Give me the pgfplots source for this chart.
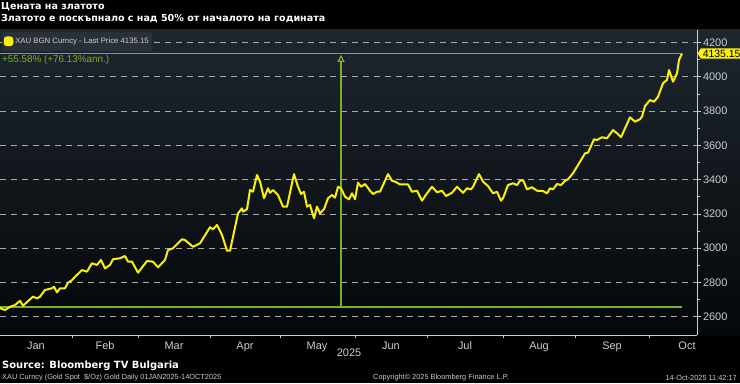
\documentclass[border=0pt]{standalone}
\usepackage{fontspec}
\setmainfont{Liberation Sans}
\newfontfamily\dvs{DejaVu Sans}
\usepackage{pgfplots}
\pgfplotsset{compat=1.18}
\usetikzlibrary{arrows.meta,shapes.symbols}
\definecolor{gold}{RGB}{250,240,10}
\definecolor{grn}{RGB}{118,178,40}
\definecolor{bgtop}{RGB}{30,38,47}
\definecolor{bgbot}{RGB}{5,7,9}
\definecolor{axgray}{RGB}{205,205,205}
\definecolor{gridgray}{RGB}{170,170,170}
\definecolor{legbg}{RGB}{42,48,56}
\begin{document}
\begin{tikzpicture}[x=1bp,y=1bp]
\fill[black] (0,0) rectangle (740,383);
\useasboundingbox (0,0) rectangle (740,383);
\shade[top color=bgtop, bottom color=bgbot] (0,48) rectangle (740,353);
\begin{axis}[
  at={(0bp,48bp)}, anchor=south west, scale only axis,
  width=697bp, height=305bp,
  xmin=0, xmax=697, ymin=2493.3, ymax=4272.5,
  axis x line*=bottom, axis y line*=right,
  axis line style={axgray, line width=0.8bp},
  xtick={36,105,174,245,317,391,465,539,612,687},
  xticklabels={Jan,Feb,Mar,Apr,May,Jun,Jul,Aug,Sep,Oct},
  minor xtick={72,138,210,280,355,427,503,575,649},
  major x tick style={draw=none},
  minor x tick style={axgray, line width=0.6bp},
  minor tick length=2.5bp,
  ytick={2600,2800,...,4200},
  minor ytick={2700,2900,...,4100},
  y tick style={axgray, line width=0.6bp},
  major tick length=4bp,
  tick align=outside,
  yticklabel pos=right,
  ymajorgrids,
  grid style={gridgray, dash pattern=on 6bp off 5bp, line width=0.7bp},
  /pgf/number format/assume math mode=true,
  /pgf/number format/1000 sep={},
  tick label style={text=axgray, font=\fontsize{11}{12}\selectfont},
  yticklabel style={xshift=-1.5bp},
  xticklabel style={yshift=1bp},
  legend style={at={(0.003,0.995)}, anchor=north west, fill=legbg, draw=none,
    rounded corners=2bp, text=axgray, font=\fontsize{7.8}{8}\selectfont,
    inner xsep=1.5bp, inner ysep=4bp},
  legend image code/.code={\fill[gold] (0bp,-3.8bp) rectangle (7.5bp,3.8bp);},
  clip=false,
]
\addplot[grn, line width=1.4bp, forget plot] coordinates {(0,2657.8) (682,2657.8)};
\addplot[grn, line width=1.4bp, forget plot] coordinates {(0,4135.15) (682,4135.15)};
\addplot[grn, line width=1.2bp, forget plot, -{Triangle[open, length=7bp, width=7bp]}] coordinates {(341,2657.8) (341,4128)};
\addplot[gold, line width=2bp, line join=round] coordinates {
(0,2650)(5,2639)(10,2658)(15,2668)(20,2693)(23,2664)(33,2717)(37,2707)(40,2717)(45,2756)(52,2766)(54,2775)(57,2742)(60,2766)(65,2766)(68,2798)(72,2814)(75,2833)(82,2872)(87,2863)(92,2912)(97,2902)(101,2931)(105,2882)(110,2902)(113,2935)(120,2941)(125,2954)(128,2921)(132,2921)(138,2857)(147,2925)(153,2921)(158,2888)(165,2931)(168,2989)(173,2999)(182,3052)(185,3047)(193,3008)(200,3028)(210,3122)(213,3110)(217,3135)(222,3077)(227,2985)(230,2985)(238,3203)(242,3232)(243,3213)(247,3227)(250,3339)(253,3329)(257,3427)(260,3388)(264,3291)(268,3349)(270,3323)(273,3339)(278,3310)(283,3242)(287,3242)(294,3432)(298,3358)(301,3316)(304,3329)(307,3242)(310,3252)(314,3174)(317,3242)(320,3203)(324,3227)(328,3291)(332,3310)(335,3294)(338,3358)(341,3349)(345,3300)(349,3285)(352,3320)(355,3285)(358,3382)(361,3358)(365,3374)(370,3335)(373,3316)(377,3329)(380,3329)(388,3432)(392,3393)(395,3388)(400,3372)(408,3372)(412,3329)(417,3335)(422,3277)(427,3320)(432,3358)(437,3326)(442,3335)(446,3304)(452,3323)(457,3358)(463,3323)(467,3349)(471,3343)(473,3358)(479,3432)(483,3388)(488,3362)(493,3320)(497,3329)(501,3277)(503,3291)(508,3368)(513,3378)(517,3368)(520,3393)(523,3397)(527,3343)(532,3355)(537,3335)(543,3333)(547,3320)(550,3349)(553,3343)(557,3374)(561,3368)(565,3393)(568,3402)(573,3437)(580,3504)(585,3553)(588,3557)(594,3635)(597,3631)(602,3647)(607,3641)(613,3689)(617,3670)(621,3647)(625,3699)(630,3763)(635,3738)(640,3752)(642,3767)(645,3829)(650,3864)(654,3854)(658,3883)(663,3962)(667,3981)(669,4039)(673,3971)(677,4020)(679,4098)(682,4135.15)
};
\addlegendentry{XAU BGN Curncy - Last Price 4135.15}
\coordinate (tag) at (axis cs:697,4135.15);
\end{axis}
\node[signal, signal to=west, signal pointer angle=120, fill=gold, text=black,
  anchor=west, inner xsep=2bp, inner ysep=1.5bp, font=\fontsize{10.5}{11}\selectfont] at ([xshift=0.5bp]tag) {4135.15};
\node[anchor=west, text=grn, font=\fontsize{9.9}{10}\selectfont, inner sep=0pt] at (2,323) {+55.58\% (+76.13\%ann.)};
\node[anchor=west, text=white, font=\dvs\bfseries\fontsize{9.6}{11}\selectfont, inner sep=0pt] at (1,376) {Цената на златото};
\node[anchor=west, text=white, font=\dvs\bfseries\fontsize{9.6}{11}\selectfont, inner sep=0pt] at (1,364) {Златото е поскъпнало с над 50\% от началото на годината};
\node[text=axgray, font=\fontsize{11}{12}\selectfont, inner sep=0pt] at (349,30) {2025};
\node[anchor=west, text=white, font=\dvs\bfseries\fontsize{10}{11}\selectfont, inner sep=0pt] at (2,17) {Source: Bloomberg TV Bulgaria};
\node[anchor=west, text=axgray, font=\fontsize{7.4}{8}\selectfont, inner sep=0pt] at (2,5) {XAU Curncy (Gold Spot\ \ \$/Oz) Gold Daily 01JAN2025-14OCT2025};
\node[anchor=west, text=axgray, font=\fontsize{7.4}{8}\selectfont, inner sep=0pt] at (373,5) {Copyright© 2025 Bloomberg Finance L.P.};
\node[anchor=east, text=axgray, font=\fontsize{7.4}{8}\selectfont, inner sep=0pt] at (737,5) {14-Oct-2025 11:42:17};
\end{tikzpicture}
\end{document}
